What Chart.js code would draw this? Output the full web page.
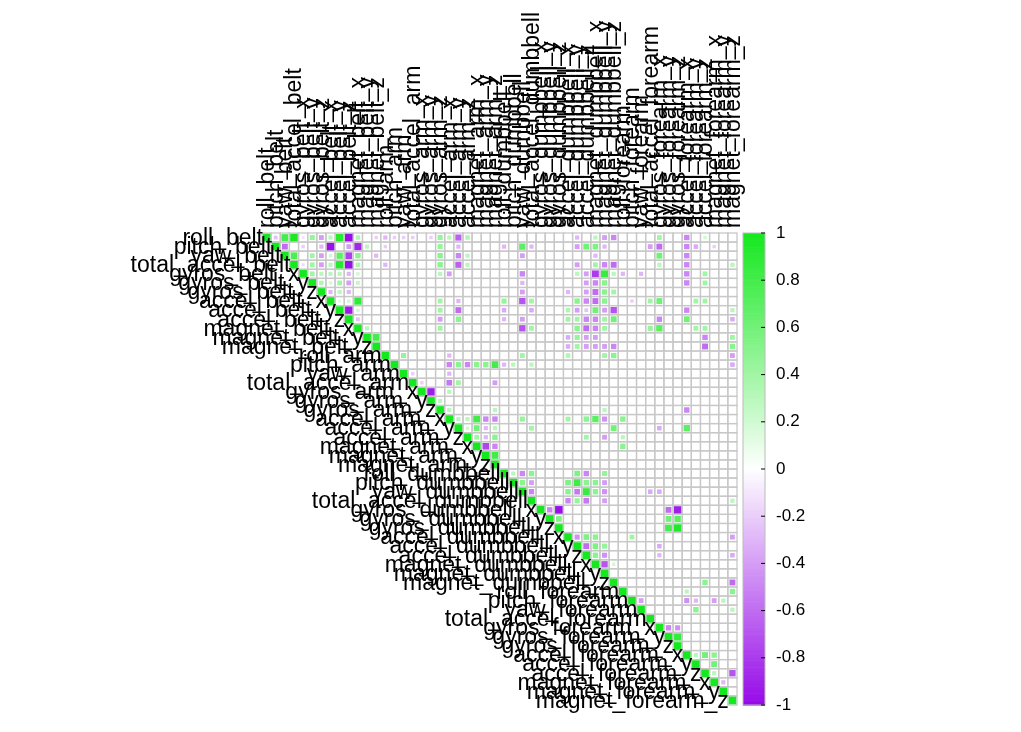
<!DOCTYPE html>
<html><head><meta charset="utf-8">
<script src="https://cdn.jsdelivr.net/npm/chart.js@4"></script>
<style>html,body{margin:0;padding:0;background:#fff}#w{width:1021px;height:732px}</style>
</head><body><div id="w"><canvas id="c"></canvas></div>
<script>
const varNames = ["roll_belt","pitch_belt","yaw_belt","total_accel_belt","gyros_belt_x","gyros_belt_y","gyros_belt_z","accel_belt_x","accel_belt_y","accel_belt_z","magnet_belt_x","magnet_belt_y","magnet_belt_z",
"roll_arm","pitch_arm","yaw_arm","total_accel_arm","gyros_arm_x","gyros_arm_y","gyros_arm_z","accel_arm_x","accel_arm_y","accel_arm_z","magnet_arm_x","magnet_arm_y","magnet_arm_z",
"roll_dumbbell","pitch_dumbbell","yaw_dumbbell","total_accel_dumbbell","gyros_dumbbell_x","gyros_dumbbell_y","gyros_dumbbell_z","accel_dumbbell_x","accel_dumbbell_y","accel_dumbbell_z","magnet_dumbbell_x","magnet_dumbbell_y","magnet_dumbbell_z",
"roll_forearm","pitch_forearm","yaw_forearm","total_accel_forearm","gyros_forearm_x","gyros_forearm_y","gyros_forearm_z","accel_forearm_x","accel_forearm_y","accel_forearm_z","magnet_forearm_x","magnet_forearm_y","magnet_forearm_z"];
const colorbarTicks = [1,0.8,0.6,0.4,0.2,0,-0.2,-0.4,-0.6,-0.8,-1];
// [row, col, r] off-diagonal correlations (others ~0)
const corrCells = [
[0,1,-0.25],[0,2,0.8],[0,3,0.98],[0,4,-0.12],[0,5,0.45],[0,6,-0.4],[0,7,0.3],[0,8,0.92],[0,9,-0.99],[0,10,0.35],[0,12,-0.2],[0,13,-0.3],[0,14,-0.2],[0,15,-0.2],[0,16,-0.2],[0,18,-0.2],[0,19,0.45],[0,20,0.3],[0,21,-0.65],[0,22,0.35],[0,34,-0.3],[0,36,0.3],[0,37,-0.4],[0,38,-0.5],[0,43,0.4],[0,46,-0.5],[0,48,0.2],
[1,2,-0.6],[1,4,-0.2],[1,6,-0.3],[1,7,-0.97],[1,9,-0.4],[1,10,-0.88],[1,11,0.3],[1,13,-0.2],[1,19,0.45],[1,21,-0.3],[1,26,-0.3],[1,28,0.7],[1,29,-0.3],[1,34,-0.4],[1,35,0.6],[1,36,0.55],[1,37,-0.3],[1,42,-0.4],[1,43,-0.6],[1,46,-0.5],[1,47,-0.35],[1,49,-0.2],
[2,3,0.76],[2,5,0.4],[2,6,-0.4],[2,7,0.2],[2,8,0.7],[2,9,-0.78],[2,10,0.5],[2,12,-0.3],[2,19,0.5],[2,21,-0.5],[2,22,0.3],[2,28,-0.4],[2,36,-0.3],[2,43,0.6],[2,46,-0.5],
[3,4,-0.15],[3,5,0.4],[3,6,-0.4],[3,7,0.3],[3,8,0.93],[3,9,-0.97],[3,10,0.35],[3,13,-0.3],[3,19,0.5],[3,21,-0.65],[3,22,0.3],[3,34,-0.4],[3,36,0.4],[3,37,-0.5],[3,38,-0.6],[3,43,0.3],[3,46,-0.5],[3,51,0.3],
[4,5,0.4],[4,6,0.3],[4,7,0.3],[4,8,0.3],[4,9,-0.3],[4,10,0.2],[4,19,0.3],[4,20,-0.4],[4,28,-0.5],[4,34,0.3],[4,35,-0.4],[4,36,-0.8],[4,37,0.85],[4,38,0.3],[4,39,-0.3],[4,41,-0.3],[4,46,-0.5],[4,48,0.4],
[5,6,0.35],[5,7,0.2],[5,8,0.4],[5,9,-0.4],[5,10,0.25],[5,28,-0.3],[5,35,-0.4],[5,36,-0.5],[5,37,0.5],[5,46,-0.5],[5,48,0.4],
[6,7,-0.3],[6,8,0.3],[6,9,-0.3],[6,28,-0.4],[6,33,-0.3],[6,35,-0.4],[6,36,-0.6],[6,37,0.5],[6,38,0.4],
[7,8,0.15],[7,9,0.2],[7,10,0.89],[7,19,0.4],[7,21,-0.3],[7,26,0.45],[7,28,-0.7],[7,29,0.4],[7,34,0.5],[7,35,-0.5],[7,36,-0.6],[7,37,0.5],[7,40,-0.2],[7,42,0.4],[7,43,0.6],[7,47,0.4],[7,48,0.4],
[8,9,-0.93],[8,10,0.2],[8,19,0.4],[8,21,-0.6],[8,26,-0.35],[8,29,-0.35],[8,33,0.35],[8,34,-0.4],[8,35,-0.25],[8,36,0.6],[8,37,-0.4],[8,38,-0.7],[8,46,-0.5],[8,51,0.3],
[9,10,-0.25],[9,19,-0.4],[9,21,0.5],[9,26,-0.3],[9,28,-0.4],[9,33,0.4],[9,34,0.4],[9,35,-0.5],[9,36,-0.5],[9,37,0.4],[9,38,0.6],[9,43,-0.5],[9,46,0.6],[9,51,-0.35],
[10,11,0.3],[10,19,0.4],[10,28,-0.7],[10,29,0.4],[10,34,0.5],[10,35,-0.6],[10,36,-0.5],[10,37,0.4],[10,42,0.45],[10,43,0.7],[10,47,0.4],[10,48,0.4],
[11,12,0.8],[11,33,-0.35],[11,34,0.45],[11,35,-0.4],[11,36,-0.4],[11,48,-0.5],[11,51,0.4],
[12,33,-0.35],[12,34,0.4],[12,35,-0.4],[12,36,-0.4],[12,37,-0.4],[12,38,-0.5],[12,48,-0.6],[12,51,0.5],
[13,15,0.45],[13,20,-0.3],[13,28,0.4],[13,33,0.35],[13,37,0.4],[13,38,0.5],[13,51,-0.4],
[14,20,-0.5],[14,21,0.5],[14,22,-0.5],[14,23,0.5],[14,24,0.5],[14,25,0.8],[14,26,-0.3],[14,27,0.3],[14,29,0.3],[14,51,-0.35],
[15,16,-0.2],[15,20,-0.3],[16,17,-0.2],[16,20,-0.55],[16,21,0.4],[16,25,-0.4],[17,18,-0.92],[17,20,0.3],
[18,19,0.3],[19,20,0.3],[19,25,0.3],[19,46,-0.5],[19,37,0.3],
[20,21,0.3],[20,22,0.3],[20,23,0.81],[20,24,-0.5],[20,25,-0.5],[20,28,0.45],[20,33,0.4],[20,35,0.5],[20,36,0.7],[20,37,-0.45],[20,39,0.5],
[21,22,0.2],[21,23,0.6],[21,24,-0.3],[21,25,0.3],[21,29,0.4],[21,38,0.6],[21,43,-0.35],[21,46,0.7],
[22,23,0.4],[22,24,-0.3],[22,25,0.5],[22,35,0.4],[22,37,-0.4],[22,39,0.3],
[23,24,-0.75],[23,25,-0.5],[23,39,0.5],
[24,25,0.81],
[26,27,0.3],[26,28,-0.5],[26,29,0.5],[26,34,0.55],[26,35,-0.5],[26,37,0.45],
[27,28,0.5],[27,29,-0.4],[27,33,0.55],[27,34,0.81],[27,35,0.5],[27,36,0.5],[27,37,-0.4],
[28,29,-0.5],[28,33,0.5],[28,34,-0.55],[28,35,0.85],[28,36,0.5],[28,37,-0.45],[28,42,-0.35],[28,43,-0.35],
[29,33,-0.5],[29,34,0.45],[29,35,-0.55],[29,37,-0.4],[29,51,0.3],
[30,31,-0.5],[30,32,-0.98],[30,44,-0.6],[30,45,-0.91],
[31,32,0.55],[31,44,0.6],[31,45,0.7],
[32,44,0.8],[32,45,0.95],
[33,34,-0.45],[33,35,0.55],[33,36,0.5],[33,40,0.4],[33,51,-0.4],
[34,35,-0.6],[34,36,0.55],[34,37,0.45],[34,43,-0.35],
[35,36,0.5],[35,37,-0.45],[35,43,-0.3],[35,51,-0.35],
[36,37,-0.7],[36,38,0.2],
[38,48,0.5],[38,51,-0.6],
[39,51,0.5],[39,46,0.3],
[40,41,-0.4],[40,46,-0.45],[40,47,-0.3],[40,49,-0.4],[40,50,0.3],
[41,47,0.5],[41,51,0.3],
[43,44,-0.5],[43,45,-0.45],
[44,45,0.87],
[46,47,0.3],[46,48,0.6],[46,49,0.5],
[47,49,0.6],
[48,49,0.3],[48,51,-0.7],
[49,50,-0.3]
];

const N = varNames.length;
const cells = [];
for (let i=0;i<N;i++) cells.push({x:i+0.5,y:i+0.5,r:1});
corrCells.forEach(([i,j,r])=>cells.push({x:j+0.5,y:i+0.5,r:r}));

function col(r){
  const t=Math.min(1,Math.abs(r));
  const tgt = r>=0 ? [20,232,30] : [150,10,232];
  const c=[0,1,2].map(k=>Math.round(255+(tgt[k]-255)*t));
  return `rgb(${c[0]},${c[1]},${c[2]})`;
}
const FONT='"Liberation Sans", Arial, sans-serif';

const deco = {
  id:'deco',
  beforeDatasetsDraw(ch){
    const {ctx,scales:{x,y}}=ch;
    ctx.save();
    ctx.strokeStyle='#c8c8c8'; ctx.lineWidth=1.3;
    for(let i=0;i<N;i++) for(let j=i;j<N;j++){
      const x0=x.getPixelForValue(j),x1=x.getPixelForValue(j+1);
      const y0=y.getPixelForValue(i),y1=y.getPixelForValue(i+1);
      ctx.strokeRect(x0,y0,x1-x0,y1-y0);
    }
    ctx.restore();
  },
  afterDatasetsDraw(ch){
    const {ctx,scales:{x,y}}=ch;
    ctx.save();
    ctx.fillStyle='#000'; ctx.font='23px '+FONT;
    ctx.textAlign='right'; ctx.textBaseline='middle';
    for(let i=0;i<N;i++){
      ctx.fillText(varNames[i], x.getPixelForValue(i)+1, y.getPixelForValue(i+0.5)+1);
    }
    const top=y.getPixelForValue(0);
    for(let j=0;j<N;j++){
      ctx.save();
      ctx.translate(x.getPixelForValue(j+0.5), top-5);
      ctx.rotate(-Math.PI/2);
      ctx.textAlign='left'; ctx.textBaseline='middle';
      ctx.fillText(varNames[j],0,1);
      ctx.restore();
    }
    const bx=743,bw=22,by0=y.getPixelForValue(0),by1=y.getPixelForValue(N);
    const steps=200;
    for(let s=0;s<steps;s++){
      const v=1-2*(s+0.5)/steps;
      ctx.fillStyle=col(v);
      const yy=by0+(by1-by0)*s/steps;
      ctx.fillRect(bx,yy,bw,(by1-by0)/steps+0.6);
    }
    ctx.strokeStyle='#bbb'; ctx.lineWidth=1; ctx.strokeRect(bx,by0,bw,by1-by0);
    ctx.fillStyle='#000'; ctx.font='17px '+FONT; ctx.textAlign='left'; ctx.textBaseline='middle';
    ctx.strokeStyle='#000';
    colorbarTicks.forEach(v=>{
      const yy=by0+(by1-by0)*(1-v)/2;
      ctx.beginPath(); ctx.moveTo(bx+bw-4,yy); ctx.lineTo(bx+bw,yy); ctx.stroke();
      ctx.fillText(String(v), bx+bw+11, yy);
    });
    ctx.restore();
  }
};

new Chart(document.getElementById('c'),{
  type:'scatter',
  data:{datasets:[{
    data:cells,
    pointStyle:'rect',
    backgroundColor:c=>col(c.raw.r),
    borderWidth:0,
    radius:c=>{
      const s=c.chart.scales.x; const cell=s.getPixelForValue(1)-s.getPixelForValue(0);
      return (cell-1.5)*Math.sqrt(Math.abs(c.raw.r))/Math.SQRT2;
    },
    hoverRadius:c=>{
      const s=c.chart.scales.x; const cell=s.getPixelForValue(1)-s.getPixelForValue(0);
      return (cell-1.5)*Math.sqrt(Math.abs(c.raw.r))/Math.SQRT2;
    }
  }]},
  options:{
    responsive:true, maintainAspectRatio:false, animation:false,
    layout:{padding:{left:262,right:284,top:233,bottom:27}},
    plugins:{legend:{display:false},tooltip:{enabled:false}},
    scales:{
      x:{type:'linear',min:0,max:N,display:false},
      y:{type:'linear',min:0,max:N,reverse:true,display:false}
    }
  },
  plugins:[deco]
});
</script></body></html>
